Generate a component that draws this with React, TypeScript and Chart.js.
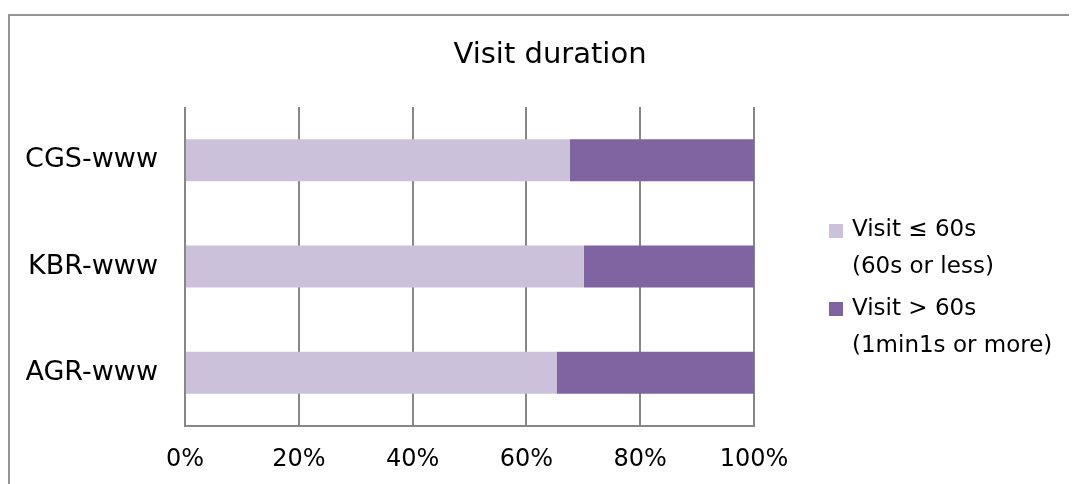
import React, { useEffect, useRef } from 'react';
import { Chart, registerables } from 'chart.js';

Chart.register(...registerables);

const categories = ['CGS-www', 'KBR-www', 'AGR-www'];
const shortVisitShare = [67.6, 70.1, 65.3];
const longVisitShare = [32.4, 29.9, 34.7];
const seriesNames = ['Visit ≤ 60s\n(60s or less)', 'Visit > 60s\n(1min1s or more)'];
const seriesColors = ['#CCC1DA', '#8064A2'];
const chartTitle = 'Visit duration';
const xTickStep = 20;

const FONT = "'DejaVu Sans', sans-serif";
const W = 1080;
const H = 558;
const PAD = 16;
const AREA_LEFT = 175;
const AREA_RIGHT = 744;
const AREA_BOTTOM = 410;

// legend layout (positions only, no data)
const LEGEND_OFFSET_X = 75; // from chart-area right edge to legend box
const LEGEND_FIRST_LINE = 123.5; // from chart-area top to first text line centre
const LEGEND_LINE_H = 37;
const LEGEND_ITEM_GAP = 4.5;
const LEGEND_BOX = 14;
const LEGEND_TEXT_GAP = 9;
const LEGEND_FONT_SIZE = 23;

const sideLegend = {
  id: 'sideLegend',
  afterDraw(chart: any) {
    const { ctx, chartArea } = chart;
    const x0 = chartArea.right + LEGEND_OFFSET_X;
    let y = chartArea.top + LEGEND_FIRST_LINE;
    ctx.save();
    ctx.font = `normal ${LEGEND_FONT_SIZE}px ${FONT}`;
    ctx.textBaseline = 'middle';
    ctx.textAlign = 'left';
    chart.data.datasets.forEach((ds: any) => {
      const lines = String(ds.label).split('\n');
      ctx.fillStyle = ds.backgroundColor;
      ctx.fillRect(x0, Math.round(y - LEGEND_BOX / 2), LEGEND_BOX, LEGEND_BOX);
      ctx.fillStyle = '#000';
      lines.forEach((line: string, j: number) => {
        ctx.fillText(line, x0 + LEGEND_BOX + LEGEND_TEXT_GAP, y + j * LEGEND_LINE_H);
      });
      y += lines.length * LEGEND_LINE_H + LEGEND_ITEM_GAP;
    });
    ctx.restore();
  },
};

export default function App() {
  const ref = useRef<HTMLCanvasElement | null>(null);

  useEffect(() => {
    document.documentElement.style.overflow = 'hidden';
    document.body.style.overflow = 'hidden';
    const canvas = ref.current;
    if (!canvas) return;
    const chart = new Chart(canvas, {
      type: 'bar',
      data: {
        labels: categories,
        datasets: [
          {
            label: seriesNames[0],
            data: shortVisitShare,
            backgroundColor: seriesColors[0],
            barPercentage: 0.395,
            categoryPercentage: 1,
          },
          {
            label: seriesNames[1],
            data: longVisitShare,
            backgroundColor: seriesColors[1],
            barPercentage: 0.395,
            categoryPercentage: 1,
          },
        ],
      },
      plugins: [sideLegend],
      options: {
        indexAxis: 'y',
        responsive: false,
        animation: false,
        layout: { padding: { left: PAD, right: PAD, top: 0, bottom: 0 } },
        plugins: {
          title: {
            display: true,
            text: chartTitle,
            color: '#000',
            font: { family: FONT, size: 29, weight: 'normal', lineHeight: 1.2 },
            padding: { top: 21.6, bottom: 34.6 },
          },
          legend: { display: false },
          tooltip: { enabled: false },
        },
        scales: {
          x: {
            type: 'linear',
            stacked: true,
            min: 0,
            max: 100,
            ticks: {
              stepSize: xTickStep,
              callback: (v: any) => v + '%',
              color: '#000',
              font: { family: FONT, size: 24, lineHeight: 1.2 },
              padding: 19,
              maxRotation: 0,
            },
            grid: { color: '#878787', lineWidth: 2, drawTicks: false },
            border: { display: true, color: '#878787', width: 2 },
            afterFit: (s: any) => {
              s.height = H - AREA_BOTTOM;
            },
          },
          y: {
            type: 'category',
            stacked: true,
            ticks: {
              color: '#000',
              font: { family: FONT, size: 27 },
              padding: 27,
            },
            grid: { display: false, drawTicks: false },
            border: { display: false },
            afterFit: (s: any) => {
              s.width = AREA_LEFT - PAD;
            },
          },
          gap: {
            type: 'category',
            axis: 'y',
            position: 'right',
            display: true,
            ticks: { display: false },
            grid: { display: false, drawTicks: false },
            border: { display: false },
            afterFit: (s: any) => {
              s.width = W - PAD - AREA_RIGHT;
            },
          },
        },
      } as any,
    });
    return () => chart.destroy();
  }, []);

  return (
    <div style={{ width: 1069, height: 476, overflow: 'hidden', position: 'relative' }}>
      <div
        style={{
          position: 'absolute',
          left: 0,
          top: 6,
          width: W,
          height: H,
          border: '2px solid #969696',
          background: '#fff',
        }}
      >
        <canvas ref={ref} width={W} height={H} style={{ display: 'block', width: W, height: H }} />
      </div>
    </div>
  );
}
